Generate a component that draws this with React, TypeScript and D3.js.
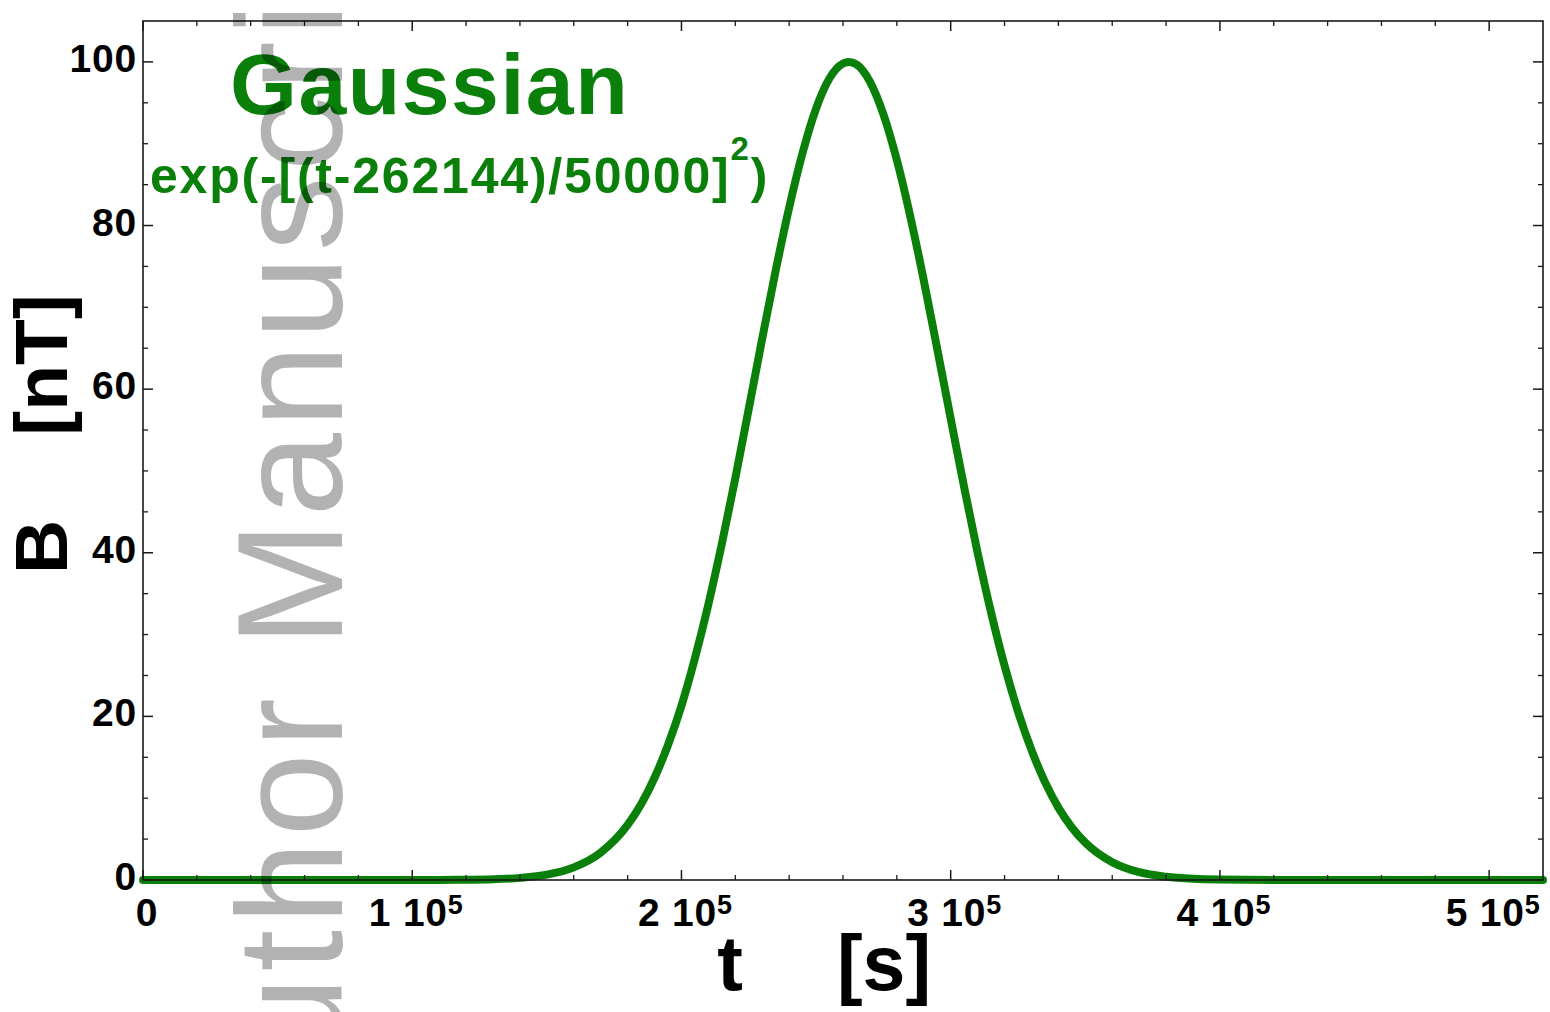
import React from "react";
import * as d3 from "d3";

// ---- data ----
const timeS: number[] = [
  0, 20000, 40000, 60000, 80000, 100000, 110000, 120000, 130000, 140000, 150000,
  160000, 170000, 180000, 185000, 190000, 195000, 200000, 205000, 210000, 215000,
  220000, 225000, 230000, 235000, 240000, 245000, 250000, 255000, 260000, 262144,
  265000, 270000, 275000, 280000, 285000, 290000, 295000, 300000, 305000, 310000,
  315000, 320000, 325000, 330000, 335000, 340000, 345000, 350000, 360000, 370000,
  380000, 390000, 400000, 420000, 440000, 460000, 480000, 500000, 520000,
];
const fieldNT: number[] = [
  0, 0, 0, 0, 0, 0, 0.01, 0.03, 0.09, 0.26, 0.65,
  1.54, 3.35, 6.73, 9.25, 12.5, 16.5, 21.3, 27.1, 33.7, 41.1,
  49.1, 57.6, 66.2, 74.5, 82.2, 88.9, 94.3, 98.0, 99.8, 100,
  99.7, 97.6, 93.6, 88.0, 81.1, 73.3, 64.9, 56.4, 48.0, 40.0,
  32.7, 26.2, 20.6, 15.9, 12.0, 8.85, 6.42, 4.56, 2.17, 0.95,
  0.39, 0.14, 0.05, 0, 0, 0, 0, 0, 0,
];

const xMajorTicks: number[] = [0, 100000, 200000, 300000, 400000, 500000];
const xTickMantissa: string[] = ["0", "1 10", "2 10", "3 10", "4 10", "5 10"];
const xTickExponent: string[] = ["", "5", "5", "5", "5", "5"];
const yMajorTicks: number[] = [0, 20, 40, 60, 80, 100];
const yTickLabels: string[] = ["0", "20", "40", "60", "80", "100"];

const titleText = "Gaussian";
const formulaText = "exp(-[(t-262144)/50000]";
const formulaExp = "2";
const xLabelVar = "t";
const xLabelUnit = "[s]";
const yLabelVar = "B";
const yLabelUnit = "[nT]";
const watermark = "Author Manuscript";

const GREEN = "#0a800a";
const FONT = "'Liberation Sans', Arial, Helvetica, sans-serif";

export default function App() {
  const W = 1550;
  const H = 1012;
  const left = 143, right = 1543, top = 21, bottom = 880;

  const x = d3.scaleLinear().domain([0, 520000]).range([left, right]);
  const y = d3.scaleLinear().domain([0, 105]).range([bottom, top]);

  const xMinor = d3.range(0, 520000, 20000).filter((v) => v % 100000 !== 0);
  const yMinor = d3.range(0, 105, 5).filter((v) => v % 20 !== 0);

  const pts = timeS.map((t, i) => [t, fieldNT[i]] as [number, number]);
  const line = d3
    .line<[number, number]>()
    .x((d) => x(d[0]))
    .y((d) => y(d[1]))
    .curve(d3.curveMonotoneX);

  const axisColor = "#1a1a1a";

  return (
    <svg
      width={W}
      height={H}
      viewBox={`0 0 ${W} ${H}`}
      style={{ position: "absolute", left: 0, top: 0, background: "#fff" }}
      fontFamily={FONT}
    >
      <rect x={0} y={0} width={W} height={H} fill="#fff" />

      {/* curve */}
      <path
        d={line(pts) || ""}
        fill="none"
        stroke={GREEN}
        strokeWidth={8}
        strokeLinecap="round"
        strokeLinejoin="round"
      />

      {/* frame */}
      <rect
        x={left}
        y={top}
        width={right - left}
        height={bottom - top}
        fill="none"
        stroke={axisColor}
        strokeWidth={1.6}
      />

      {/* x ticks */}
      {xMajorTicks.map((v) => (
        <g key={"xM" + v}>
          <line x1={x(v)} x2={x(v)} y1={bottom} y2={bottom - 10} stroke={axisColor} strokeWidth={1.5} />
          <line x1={x(v)} x2={x(v)} y1={top} y2={top + 10} stroke={axisColor} strokeWidth={1.5} />
        </g>
      ))}
      {xMinor.map((v) => (
        <g key={"xm" + v}>
          <line x1={x(v)} x2={x(v)} y1={bottom} y2={bottom - 5} stroke={axisColor} strokeWidth={1.3} />
          <line x1={x(v)} x2={x(v)} y1={top} y2={top + 5} stroke={axisColor} strokeWidth={1.3} />
        </g>
      ))}
      {/* y ticks */}
      {yMajorTicks.map((v) => (
        <g key={"yM" + v}>
          <line x1={left} x2={left + 10} y1={y(v)} y2={y(v)} stroke={axisColor} strokeWidth={1.5} />
          <line x1={right} x2={right - 10} y1={y(v)} y2={y(v)} stroke={axisColor} strokeWidth={1.5} />
        </g>
      ))}
      {yMinor.map((v) => (
        <g key={"ym" + v}>
          <line x1={left} x2={left + 5} y1={y(v)} y2={y(v)} stroke={axisColor} strokeWidth={1.3} />
          <line x1={right} x2={right - 5} y1={y(v)} y2={y(v)} stroke={axisColor} strokeWidth={1.3} />
        </g>
      ))}

      {/* x tick labels */}
      {xMajorTicks.map((v, i) => (
        <text
          key={"xl" + v}
          x={x(v) + 4}
          y={926}
          textAnchor="middle"
          fontSize={39}
          fontWeight="bold"
          letterSpacing={0.8}
          fill="#000"
        >
          <tspan>{xTickMantissa[i]}</tspan>
          {xTickExponent[i] && (
            <tspan dy={-12} fontSize={27}>
              {xTickExponent[i]}
            </tspan>
          )}
        </text>
      ))}

      {/* y tick labels */}
      {yMajorTicks.map((v, i) => (
        <text
          key={"yl" + v}
          x={137}
          y={y(v) + 10}
          textAnchor="end"
          fontSize={39}
          fontWeight="bold"
          letterSpacing={0.8}
          fill="#000"
        >
          {yTickLabels[i]}
        </text>
      ))}

      {/* axis labels */}
      <text x={730} y={990} textAnchor="middle" fontSize={77} fontWeight="bold" fill="#000">
        {xLabelVar}
      </text>
      <text x={884} y={990} textAnchor="middle" fontSize={77} fontWeight="bold" fill="#000">
        {xLabelUnit}
      </text>
      <text
        transform={`translate(67, 547) rotate(-90)`}
        textAnchor="middle"
        fontSize={75}
        fontWeight="bold"
        fill="#000"
      >
        {yLabelVar}
      </text>
      <text
        transform={`translate(67, 365) rotate(-90)`}
        textAnchor="middle"
        fontSize={75}
        fontWeight="bold"
        fill="#000"
      >
        {yLabelUnit}
      </text>

      {/* title and formula */}
      <text x={230} y={114} fontSize={86} fontWeight="bold" letterSpacing={1.5} fill={GREEN}>
        {titleText}
      </text>
      <text x={150} y={193} fontSize={50} fontWeight="bold" letterSpacing={1.8} fill={GREEN}>
        <tspan>{formulaText}</tspan>
        <tspan dy={-33} fontSize={33}>
          {formulaExp}
        </tspan>
        <tspan dy={33}>)</tspan>
      </text>

      {/* watermark */}
      <text
        transform={`translate(342, 1165) rotate(-90)`}
        fontSize={150}
        letterSpacing={5}
        fill="#000"
        fillOpacity={0.3}
      >
        {watermark}
      </text>
    </svg>
  );
}
